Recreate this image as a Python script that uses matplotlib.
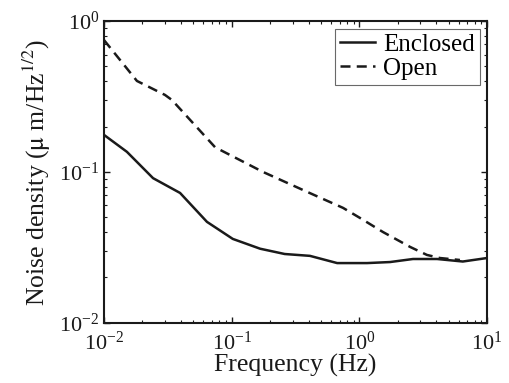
import numpy as np
import matplotlib
matplotlib.use("Agg")
import matplotlib.pyplot as plt

plt.rcParams['font.family'] = ['Liberation Serif', 'DejaVu Serif']
plt.rcParams['mathtext.fontset'] = 'stix'

# Enclosed (solid)
freq_enc = [0.01, 0.0151, 0.0242, 0.0394, 0.064, 0.102, 0.167, 0.26, 0.41,
            0.67, 1.15, 1.74, 2.63, 4.06, 6.46, 10.0]
noise_enc = [0.176, 0.136, 0.091, 0.0726, 0.0467, 0.036, 0.031, 0.0286, 0.0278,
             0.0249, 0.0249, 0.0253, 0.0265, 0.0265, 0.0255, 0.0269]

# Open (dashed)
freq_open = [0.01, 0.0181, 0.030, 0.034, 0.074, 0.084, 0.176, 0.361, 0.745,
             1.01, 1.53, 2.49, 3.38, 4.27, 6.13]
noise_open = [0.748, 0.401, 0.324, 0.30, 0.146, 0.138, 0.100, 0.076, 0.0578,
              0.0496, 0.040, 0.0319, 0.0282, 0.0269, 0.0261]

fig = plt.figure(figsize=(5.1, 3.83), dpi=100)
ax = fig.add_axes([0.204, 0.157, 0.751, 0.788])

ax.loglog(freq_enc, noise_enc, color='#1a1a1a', lw=1.8, label='Enclosed')
ax.loglog(freq_open, noise_open, color='#1a1a1a', lw=1.8, dashes=(4, 2.5), label='Open')

ax.set_xlim(1e-2, 1e1)
ax.set_ylim(1e-2, 1e0)

for s in ax.spines.values():
    s.set_linewidth(1.5)
    s.set_color('#1a1a1a')

ax.tick_params(which='both', direction='in', top=True, right=True, labelsize=16, colors='#1a1a1a')
ax.tick_params(which='major', length=4, width=1)
ax.tick_params(which='minor', length=2, width=0.8)
ax.tick_params(axis='x', pad=6)

ax.set_xlabel('Frequency (Hz)', fontsize=18.5, color='#1a1a1a', labelpad=0)
ax.set_ylabel(r'Noise density ($\mathrm{\mu}$ m/Hz$^{1/2}$)', fontsize=18.5, color='#1a1a1a', labelpad=4)

leg = ax.legend(loc='upper right', fontsize=18, frameon=True, fancybox=False,
                handlelength=1.4, handletextpad=0.3, borderpad=0.2, labelspacing=0.05,
                borderaxespad=0.3)
leg.get_frame().set_edgecolor('#444444')
leg.get_frame().set_linewidth(0.8)

fig.savefig('out.png', dpi=100)
